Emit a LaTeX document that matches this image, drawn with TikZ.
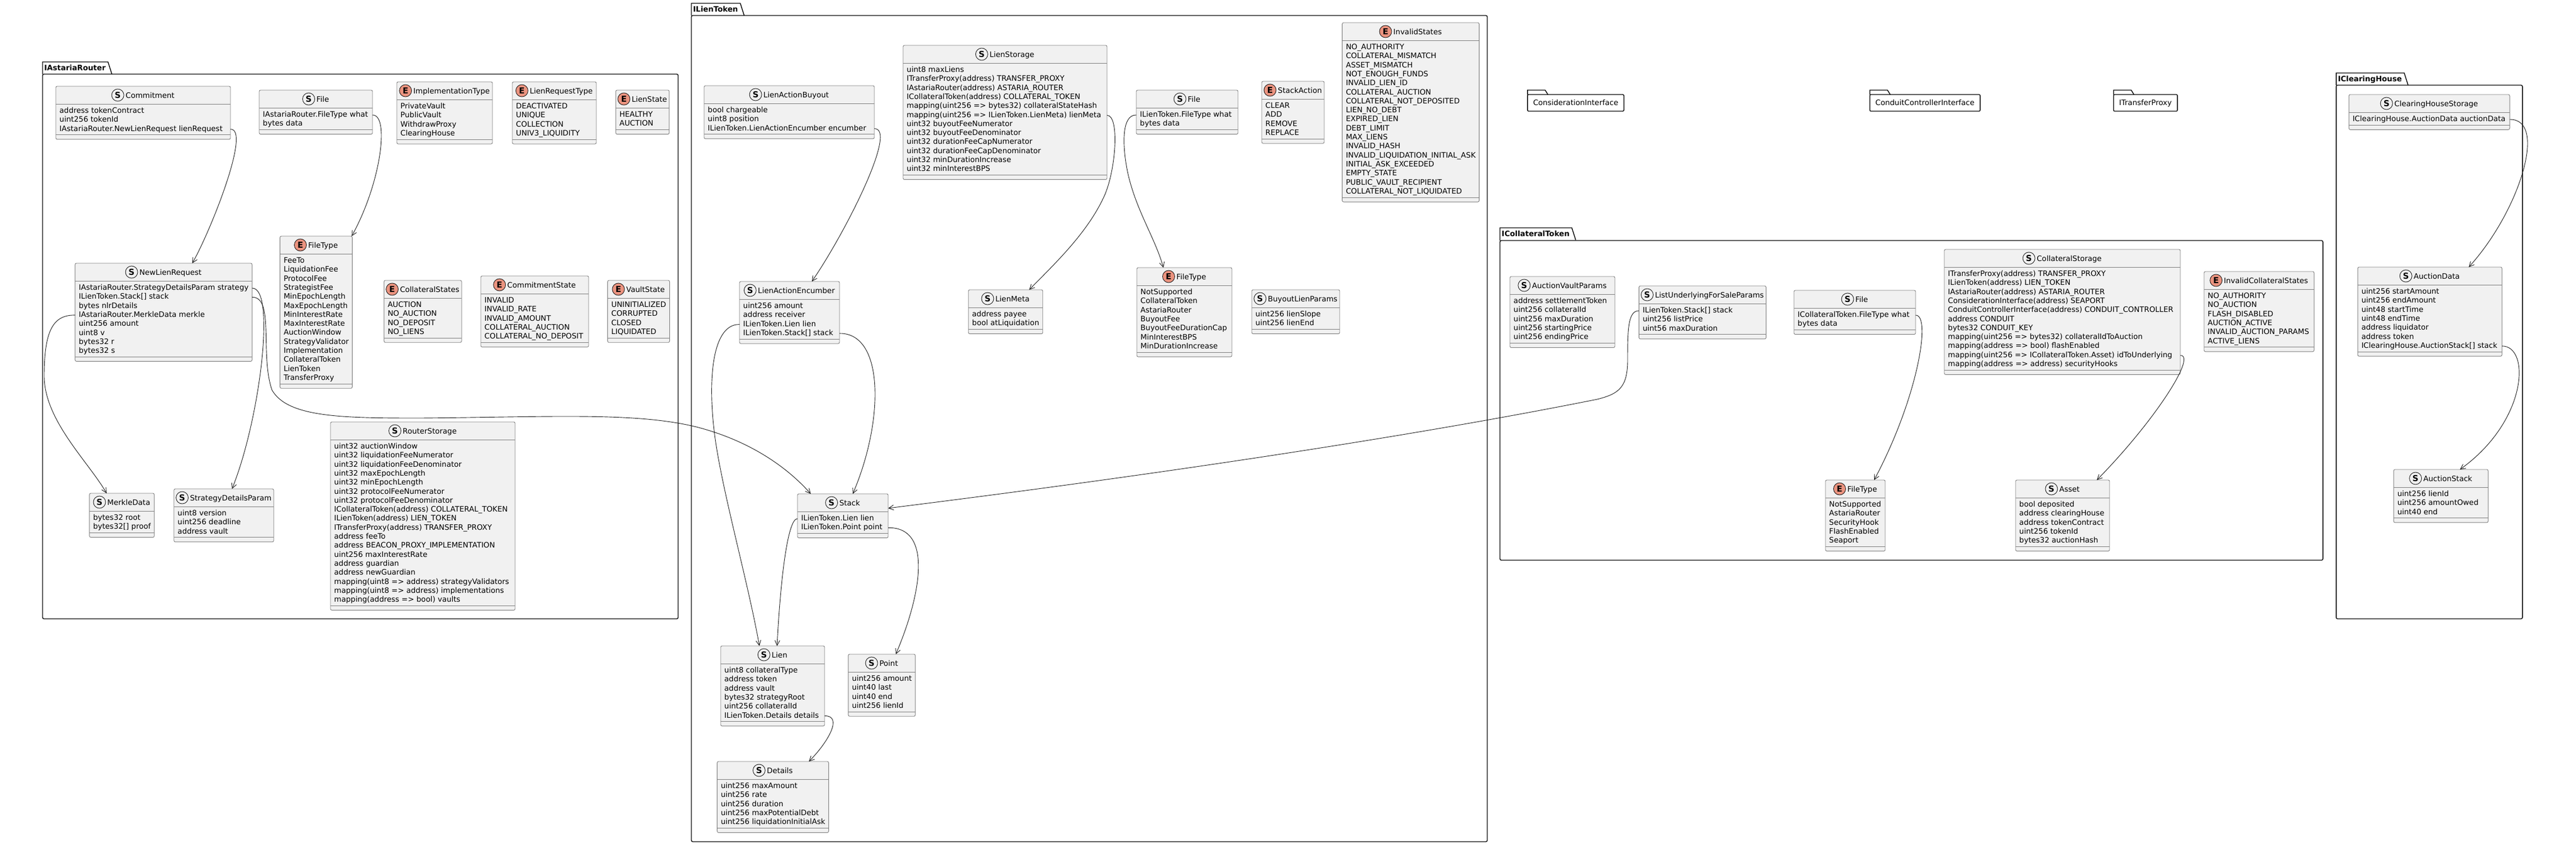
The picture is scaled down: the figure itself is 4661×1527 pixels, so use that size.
\documentclass[tikz,border=0pt]{standalone}
\usepackage{fontspec}
\setmainfont{DejaVu Sans}
\usetikzlibrary{arrows.meta,calc}
\definecolor{boxfill}{HTML}{F1F1F1}
\definecolor{boxline}{HTML}{7A7A7A}
\definecolor{lineC}{HTML}{181818}
\definecolor{enumfill}{HTML}{EB937F}
\newcommand{\umlfont}{\fontsize{13.5}{16.3}\selectfont}
\newcommand{\umlbold}{\fontsize{13.5}{16.3}\selectfont\bfseries}
\newcommand{\umlspotfont}{\fontsize{15}{15}\selectfont\bfseries}
\makeatletter
\newcommand{\umlmeasure}[2]{%
 \pgfinterruptpicture\setbox0=\hbox{\normalfont\umlfont #2}\xdef#1{\strip@pt\wd0}\endpgfinterruptpicture}
\makeatother
\tikzset{
 umlbox/.style={draw=boxline, fill=boxfill, line width=0.9pt, rounded corners=2.5pt, inner sep=0pt, outer sep=0pt},
 umlsep/.style={draw=boxline, line width=0.9pt},
 titletext/.style={font=\umlfont, inner sep=0pt, text height=9.8pt, text depth=2.8pt},
 fieldtext/.style={font=\umlfont, inner sep=0pt, text height=9.8pt, text depth=2.8pt},
 umlspot/.style={circle, draw=lineC, line width=0.9pt, minimum size=22pt, inner sep=0pt, font=\umlspotfont},
 spotS/.style={fill=boxfill},
 spotE/.style={fill=enumfill},
 pkgline/.style={draw=black, line width=1.4pt},
 pkgtitle/.style={font=\umlbold, inner sep=0pt, text height=9.8pt, text depth=2.8pt},
 foldertext/.style={font=\umlfont, inner sep=0pt, text height=9.8pt, text depth=2.8pt},
 conn/.style={draw=lineC, line width=0.9pt, -{Straight Barb[length=9pt,width=9pt]}},
}
% #1 name #2 x #3 y #4 w #5 nfields #6 S/E #7 title #8 fields
\newcommand{\umlbox}[8]{%
 \umlmeasure{\umltwv}{#7}%
 \gdef\umlmax{0}%
 \foreach \ff in {#8}{\umlmeasure{\umltmpv}{\ff}\pgfmathsetmacro{\umlm}{max(\umlmax,\umltmpv)}\xdef\umlmax{\umlm}}%
 \pgfmathsetmacro{\umlw}{max(#4,\umltwv+33,\umlmax+13)}%
 \pgfmathsetmacro{\umlx}{#2+(#4-\umlw)/2}%
 \pgfmathsetmacro{\umlh}{47+16.3*#5}%
 \node[umlbox, minimum width=\umlw*1pt, minimum height=\umlh*1pt, anchor=north west] (#1) at ({\umlx},{#3}) {};%
 \draw[umlsep] ({\umlx},{#3+32}) -- ++({\umlw},0);%
 \draw[umlsep] ({\umlx},{#3+39+16.3*#5}) -- ++({\umlw},0);%
 \node[titletext, anchor=base] (#1-t) at ({\umlx+\umlw/2+12.5},{#3+21}) {#7};%
 \node[umlspot, spot#6] (#1-c) at ([xshift=-14pt,yshift=1.5pt]#1-t.west) {#6};%
 \foreach \ff [count=\ii from 0] in {#8}{\node[fieldtext, anchor=base west] (#1-f\ii) at ({\umlx+6.5},{#3+48.5+16.3*\ii}) {\ff};}%
}
% #1 name #2 x0 #3 tabtop #4 frametop #5 x1 #6 bottom #7 title
\newcommand{\umlpkg}[7]{%
 \node[pkgtitle, anchor=base west] (#1) at ({#2+3},{#3+15.5}) {#7};%
 \draw[pkgline] ({#2},{#4}) -- ({#2},{#3}) -- ($(#1.base east)+(4,-15.5)$) -- ($(#1.base east)+(11,6.5)$);%
 \draw[pkgline, rounded corners=2.5pt] ({#2},{#4}) rectangle ({#5},{#6});%
}
% #1 name #2 cx #3 cy #4 title  (empty package drawn as a folder)
\newcommand{\umlfolder}[4]{%
 \node[foldertext, anchor=base] (#1) at ({#2},{#3+4.9}) {#4};%
 \draw[pkgline] ($(#1.base west)+(-10,-19.9)$) -- ++(0,-8) -- ++(32,0) -- ++(5,8);%
 \draw[pkgline, rounded corners=2pt] ($(#1.base west)+(-10,-19.9)$) rectangle ($(#1.base east)+(10,10.1)$);%
}
\begin{document}
\begin{tikzpicture}[x=1pt,y=-1pt]
\fill[white] (0,0) rectangle (4661,1527);
\useasboundingbox (0,0) rectangle (4661,1527);

% ---------- packages ----------
\umlpkg{pkRouter}{77}{112}{134}{1227}{1119}{IAstariaRouter}
\umlpkg{pkLien}{1251}{6}{28}{2691}{1522}{ILienToken}
\umlpkg{pkColl}{2714}{412}{435}{4203}{1013}{ICollateralToken}
\umlpkg{pkClear}{4227}{132}{154}{4564}{1119}{IClearingHouse}
\umlfolder{fCons}{2851}{186}{ConsiderationInterface}
\umlfolder{fCond}{3483}{186}{ConduitControllerInterface}
\umlfolder{fTrans}{3882}{186}{ITransferProxy}

% ---------- IAstariaRouter ----------
\umlbox{commit}{101}{156}{316}{3}{S}{Commitment}{{address tokenContract},{uint256 tokenId},{IAstariaRouter.NewLienRequest lienRequest}}
\umlbox{rfile}{469}{163}{205}{2}{S}{File}{{IAstariaRouter.FileType what},{bytes data}}
\umlbox{impl}{718}{148}{173}{4}{E}{ImplementationType}{{PrivateVault},{PublicVault},{WithdrawProxy},{ClearingHouse}}
\umlbox{lrt}{927}{148}{152}{4}{E}{LienRequestType}{{DEACTIVATED},{UNIQUE},{COLLECTION},{UNIV3\_LIQUIDITY}}
\umlbox{lstate}{1115}{163}{95}{2}{E}{LienState}{{HEALTHY},{AUCTION}}
\umlbox{rftype}{507}{427}{130}{14}{E}{FileType}{{FeeTo},{LiquidationFee},{ProtocolFee},{StrategistFee},{MinEpochLength},{MaxEpochLength},{MinInterestRate},{MaxInterestRate},{AuctionWindow},{StrategyValidator},{Implementation},{CollateralToken},{LienToken},{TransferProxy}}
\umlbox{newlien}{137}{476}{318}{8}{S}{NewLienRequest}{{IAstariaRouter.StrategyDetailsParam strategy},{ILienToken.Stack[] stack},{bytes nlrDetails},{IAstariaRouter.MerkleData merkle},{uint256 amount},{uint8 v},{bytes32 r},{bytes32 s}}
\umlbox{cstates}{696}{507}{138}{4}{E}{CollateralStates}{{AUCTION},{NO\_AUCTION},{NO\_DEPOSIT},{NO\_LIENS}}
\umlbox{cmstate}{870}{499}{195}{5}{E}{CommitmentState}{{INVALID},{INVALID\_RATE},{INVALID\_AMOUNT},{COLLATERAL\_AUCTION},{COLLATERAL\_NO\_DEPOSIT}}
\umlbox{vstate}{1101}{507}{109}{4}{E}{VaultState}{{UNINITIALIZED},{CORRUPTED},{CLOSED},{LIQUIDATED}}
\umlbox{rstore}{598}{763}{334}{18}{S}{RouterStorage}{{uint32 auctionWindow},{uint32 liquidationFeeNumerator},{uint32 liquidationFeeDenominator},{uint32 maxEpochLength},{uint32 minEpochLength},{uint32 protocolFeeNumerator},{uint32 protocolFeeDenominator},{ICollateralToken(address) COLLATERAL\_TOKEN},{ILienToken(address) LIEN\_TOKEN},{ITransferProxy(address) TRANSFER\_PROXY},{address feeTo},{address BEACON\_PROXY\_IMPLEMENTATION},{uint256 maxInterestRate},{address guardian},{address newGuardian},{mapping(uint8 => address) strategyValidators},{mapping(uint8 => address) implementations},{mapping(address => bool) vaults}}
\umlbox{merkle}{162}{892}{117}{2}{S}{MerkleData}{{bytes32 root},{bytes32[] proof}}
\umlbox{sdp}{316}{884}{178}{3}{S}{StrategyDetailsParam}{{uint8 version},{uint256 deadline},{address vault}}

% ---------- ILienToken ----------
\umlbox{lbuy}{1274}{155}{308}{3}{S}{LienActionBuyout}{{bool chargeable},{uint8 position},{ILienToken.LienActionEncumber encumber}}
\umlbox{lstore}{1634}{82}{369}{12}{S}{LienStorage}{{uint8 maxLiens},{ITransferProxy(address) TRANSFER\_PROXY},{IAstariaRouter(address) ASTARIA\_ROUTER},{ICollateralToken(address) COLLATERAL\_TOKEN},{mapping(uint256 => bytes32) collateralStateHash},{mapping(uint256 => ILienToken.LienMeta) lienMeta},{uint32 buyoutFeeNumerator},{uint32 buyoutFeeDenominator},{uint32 durationFeeCapNumerator},{uint32 durationFeeCapDenominator},{uint32 minDurationIncrease},{uint32 minInterestBPS}}
\umlbox{lfile}{2056}{163}{184}{2}{S}{File}{{ILienToken.FileType what},{bytes data}}
\umlbox{sact}{2283}{147}{113}{4}{E}{StackAction}{{CLEAR},{ADD},{REMOVE},{REPLACE}}
\umlbox{invst}{2431}{41}{243}{17}{E}{InvalidStates}{{NO\_AUTHORITY},{COLLATERAL\_MISMATCH},{ASSET\_MISMATCH},{NOT\_ENOUGH\_FUNDS},{INVALID\_LIEN\_ID},{COLLATERAL\_AUCTION},{COLLATERAL\_NOT\_DEPOSITED},{LIEN\_NO\_DEBT},{EXPIRED\_LIEN},{DEBT\_LIMIT},{MAX\_LIENS},{INVALID\_HASH},{INVALID\_LIQUIDATION\_INITIAL\_ASK},{INITIAL\_ASK\_EXCEEDED},{EMPTY\_STATE},{PUBLIC\_VAULT\_RECIPIENT},{COLLATERAL\_NOT\_LIQUIDATED}}
\umlbox{lenc}{1338}{509}{181}{4}{S}{LienActionEncumber}{{uint256 amount},{address receiver},{ILienToken.Lien lien},{ILienToken.Stack[] stack}}
\umlbox{lmeta}{1753}{524}{133}{2}{S}{LienMeta}{{address payee},{bool atLiquidation}}
\umlbox{lftype}{2057}{484}{172}{7}{E}{FileType}{{NotSupported},{CollateralToken},{AstariaRouter},{BuyoutFee},{BuyoutFeeDurationCap},{MinInterestBPS},{MinDurationIncrease}}
\umlbox{blp}{2265}{524}{159}{2}{S}{BuyoutLienParams}{{uint256 lienSlope},{uint256 lienEnd}}
\umlbox{stack}{1443}{893}{164}{2}{S}{Stack}{{ILienToken.Lien lien},{ILienToken.Point point}}
\umlbox{lien}{1304}{1168}{188}{6}{S}{Lien}{{uint8 collateralType},{address token},{address vault},{bytes32 strategyRoot},{uint256 collateralId},{ILienToken.Details details}}
\umlbox{point}{1535}{1183}{121}{4}{S}{Point}{{uint256 amount},{uint40 last},{uint40 end},{uint256 lienId}}
\umlbox{details}{1300}{1377}{197}{5}{S}{Details}{{uint256 maxAmount},{uint256 rate},{uint256 duration},{uint256 maxPotentialDebt},{uint256 liquidationInitialAsk}}

% ---------- ICollateralToken ----------
\umlbox{avp}{2732}{500}{190}{5}{S}{AuctionVaultParams}{{address settlementToken},{uint256 collateralId},{uint256 maxDuration},{uint256 startingPrice},{uint256 endingPrice}}
\umlbox{lufs}{2966}{517}{229}{3}{S}{ListUnderlyingForSaleParams}{{ILienToken.Stack[] stack},{uint256 listPrice},{uint56 maxDuration}}
\umlbox{cfile}{3246}{525}{220}{2}{S}{File}{{ICollateralToken.FileType what},{bytes data}}
\umlbox{cftype}{3303}{868}{108}{5}{E}{FileType}{{NotSupported},{AstariaRouter},{SecurityHook},{FlashEnabled},{Seaport}}
\umlbox{cstore}{3518}{451}{427}{11}{S}{CollateralStorage}{{ITransferProxy(address) TRANSFER\_PROXY},{ILienToken(address) LIEN\_TOKEN},{IAstariaRouter(address) ASTARIA\_ROUTER},{ConsiderationInterface(address) SEAPORT},{ConduitControllerInterface(address) CONDUIT\_CONTROLLER},{address CONDUIT},{bytes32 CONDUIT\_KEY},{mapping(uint256 => bytes32) collateralIdToAuction},{mapping(address => bool) flashEnabled},{mapping(uint256 => ICollateralToken.Asset) idToUnderlying},{mapping(address => address) securityHooks}}
\umlbox{ics}{3988}{491}{199}{6}{E}{InvalidCollateralStates}{{NO\_AUTHORITY},{NO\_AUCTION},{FLASH\_DISABLED},{AUCTION\_ACTIVE},{INVALID\_AUCTION\_PARAMS},{ACTIVE\_LIENS}}
\umlbox{asset}{3647}{868}{170}{5}{S}{Asset}{{bool deposited},{address clearingHouse},{address tokenContract},{uint256 tokenId},{bytes32 auctionHash}}

% ---------- IClearingHouse ----------
\umlbox{chs}{4250}{171}{291}{1}{S}{ClearingHouseStorage}{{IClearingHouse.AuctionData auctionData}}
\umlbox{adata}{4266}{483}{261}{7}{S}{AuctionData}{{uint256 startAmount},{uint256 endAmount},{uint48 startTime},{uint48 endTime},{address liquidator},{address token},{IClearingHouse.AuctionStack[] stack}}
\umlbox{astack}{4331}{849}{171}{3}{S}{AuctionStack}{{uint256 lienId},{uint256 amountOwed},{uint40 end}}

% ---------- connectors ----------
\draw[conn] (commit.east |- commit-f2.center) .. controls (455,233) and (380,420) .. ($(newlien.north west)+(212,0)$);
\draw[conn] (rfile.east |- rfile-f0.center) .. controls (705,207) and (690,330) .. ($(rftype.north east)+(-1,0)$);
\draw[conn] (newlien.east |- newlien-f0.center) .. controls (500,520) and (470,760) .. ($(sdp.north west)+(105,0)$);
\draw[conn] (newlien.east |- newlien-f1.center) .. controls (497,537) and (470,640) .. (492,705) .. controls (520,755) and (620,756) .. (760,756) .. controls (1000,754) and (1150,745) .. (1260,772) .. controls (1350,795) and (1420,840) .. ($(stack.north west)+(24,0)$);
\draw[conn] (newlien.west |- newlien-f3.center) .. controls (95,569) and (80,600) .. (80,680) .. controls (80,760) and (160,835) .. ($(merkle.north west)+(31,0)$);
\draw[conn] (lbuy.east |- lbuy-f2.center) .. controls (1625,232) and (1530,420) .. ($(lenc.north west)+(131,0)$);
\draw[conn] (lstore.east |- lstore-f5.center) .. controls (2025,208) and (2020,300) .. (2000,350) .. controls (1970,420) and (1905,480) .. ($(lmeta.north west)+(110,0)$);
\draw[conn] (lfile.west |- lfile-f0.center) .. controls (2030,207) and (2030,260) .. (2040,310) .. controls (2055,380) and (2090,430) .. ($(lftype.north west)+(48,0)$);
\draw[conn] (lenc.west |- lenc-f2.center) .. controls (1285,586) and (1280,700) .. (1295,800) .. controls (1310,900) and (1355,1060) .. ($(lien.north west)+(70,0)$);
\draw[conn] (lenc.east |- lenc-f3.center) .. controls (1600,602) and (1600,760) .. ($(stack.north west)+(100,0)$);
\draw[conn] (stack.west |- stack-f0.center) .. controls (1425,937) and (1412,1050) .. ($(lien.north west)+(102,0)$);
\draw[conn] (stack.east |- stack-f1.center) .. controls (1690,953) and (1665,1080) .. ($(point.north west)+(86,0)$);
\draw[conn] (lien.east |- lien-f5.center) .. controls (1525,1294) and (1500,1340) .. ($(details.north west)+(166,0)$);
\draw[conn] (lufs.west |- lufs-f0.center) .. controls (2945,561) and (2945,600) .. (2945,650) .. controls (2945,700) and (2930,712) .. (2890,722) .. controls (2500,800) and (2000,870) .. ($(stack.north east)+(0,26)$);
\draw[conn] (cfile.east |- cfile-f0.center) .. controls (3495,569) and (3470,720) .. ($(cftype.north west)+(88,0)$);
\draw[conn] (cstore.east |- cstore-f9.center) .. controls (3975,642) and (3900,760) .. ($(asset.north west)+(147,0)$);
\draw[conn] (chs.east |- chs-f0.center) .. controls (4610,215) and (4560,380) .. ($(adata.north west)+(201,0)$);
\draw[conn] (adata.east |- adata-f6.center) .. controls (4578,625) and (4575,760) .. ($(astack.north west)+(120,0)$);
\end{tikzpicture}
\end{document}
